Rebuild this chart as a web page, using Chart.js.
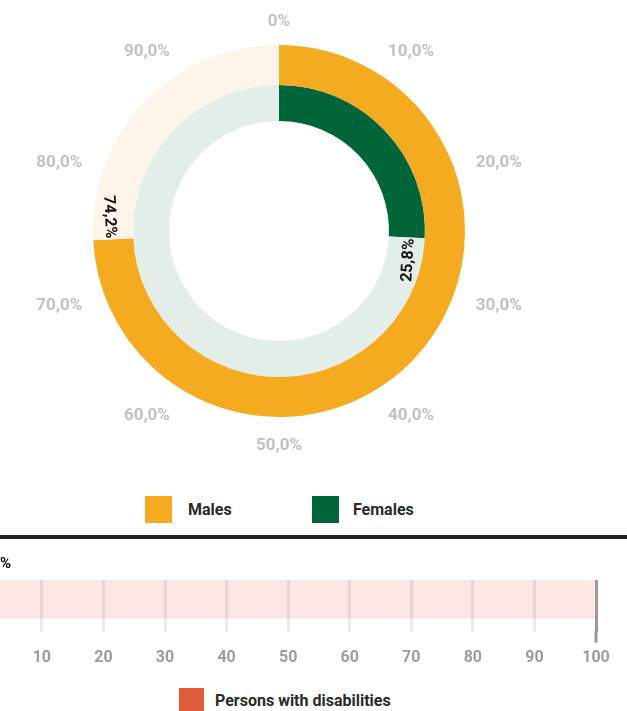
<!DOCTYPE html>
<html>
<head>
<meta charset="utf-8">
<script src="https://cdn.jsdelivr.net/npm/chart.js@4.4.1/dist/chart.umd.min.js"></script>
<style>
body { margin: 0; width: 627px; height: 711px; overflow: hidden; background: #fff; position: relative; font-family: Roboto, "Noto Sans", sans-serif; }
canvas { position: absolute; left: 0; }
#ring { top: 0; }
#bars { top: 545px; }
.rule { position: absolute; left: 0; top: 535px; width: 627px; height: 4px; background: #222; }
.item { position: absolute; display: flex; align-items: center; font-weight: bold; font-size: 16px; color: #2a2a2a; }
.item i { display: block; }
</style>
</head>
<body>
<canvas id="ring" width="627" height="480"></canvas>
<div class="item" style="left:145px; top:496px;"><i style="width:27px;height:27px;background:#f4ab1f;margin-right:16px;"></i>Males</div>
<div class="item" style="left:312px; top:496px;"><i style="width:27px;height:27px;background:#00663a;margin-right:14px;"></i>Females</div>
<div class="rule"></div>
<canvas id="bars" width="627" height="140"></canvas>
<div class="item" style="left:179px; top:688px;"><i style="width:25px;height:25px;background:#e05a3c;margin-right:11px;"></i>Persons with disabilities</div>
<script>
// donut data
var genderLabels = ["Males", "Females"];
var genderShares = [74.2, 25.8];
var ringTicks = [0, 10, 20, 30, 40, 50, 60, 70, 80, 90];

// bar data
var barCategories = ["Persons with disabilities"];
var disabilityShares = [0];
var barTrack = [100];
var barTicks = [10, 20, 30, 40, 50, 60, 70, 80, 90, 100];

var orange = "#f4ab1f", green = "#00663a", cream = "#fdf5e9", mist = "#e4eee8";
var pink = "#fbe8e5", red = "#e05a3c";

function pct(v) {
    return v === 0 ? "0%" : v.toFixed(1).replace(".", ",") + "%";
}

// labels round the rings + value labels on the arc ends
var ringText = {
    id: "ringText",
    afterDraw: function (chart) {
        var c = chart.ctx;
        var first = chart.getDatasetMeta(0).data[0];
        var cx = first.x, cy = first.y + 3, R = first.outerRadius + 22;
        c.save();
        c.font = "bold 17px Roboto";
        c.fillStyle = "#c2c2c2";
        c.textAlign = "center";
        c.textBaseline = "middle";
        ringTicks.forEach(function (v) {
            var a = v / 100 * Math.PI * 2;
            var dx = Math.sin(a), dy = -Math.cos(a);
            var w = c.measureText(pct(v)).width;
            var r = R + Math.abs(dx) * w / 2 + Math.abs(dy) * 4;
            c.fillText(pct(v), cx + dx * r, cy + dy * r);
        });

        c.fillStyle = "#111";
        c.font = "bold 16px Roboto";
        c.textAlign = "right";
        chart.data.datasets.forEach(function (ds, i) {
            var el = chart.getDatasetMeta(i).data[0];
            var r = (el.innerRadius + el.outerRadius) / 2 + 3;
            var a = el.endAngle + 1 / r;
            c.save();
            c.translate(el.x + Math.cos(a) * r, el.y + Math.sin(a) * r);
            c.rotate(a - Math.PI / 2);
            c.fillText(pct(ds.data[0]), 0, 0);
            c.restore();
        });
        c.restore();
    }
};

new Chart(document.getElementById("ring"), {
    type: "doughnut",
    data: {
        labels: genderLabels,
        datasets: [{
            data: [genderShares[0], 100 - genderShares[0]],
            backgroundColor: [orange, cream],
            borderWidth: 0,
            weight: 40
        },
        {
            data: [genderShares[1], 100 - genderShares[1]],
            backgroundColor: [green, mist],
            borderWidth: 0,
            weight: 36
        }]
    },
    options: {
        responsive: false,
        animation: false,
        events: [],
        cutout: 110,
        layout: { padding: { left: 93, right: 162, top: 45, bottom: 63 } },
        plugins: { legend: { display: false }, tooltip: { enabled: false } }
    },
    plugins: [ringText]
});

// the 100 line runs a bit lower than the others
var longTick = {
    id: "longTick",
    afterDraw: function (chart) {
        var c = chart.ctx;
        var px = chart.scales.x.getPixelForValue(barTicks[barTicks.length - 1]);
        var b = chart.chartArea.bottom;
        c.save();
        c.strokeStyle = "#9b9b9b";
        c.lineWidth = 3;
        c.beginPath();
        c.moveTo(px, b + 12);
        c.lineTo(px, b + 24);
        c.stroke();
        c.restore();
    }
};

new Chart(document.getElementById("bars"), {
    type: "bar",
    data: {
        labels: barCategories,
        datasets: [{
            label: "Persons with disabilities",
            data: disabilityShares,
            backgroundColor: red,
            grouped: false,
            barPercentage: 1,
            categoryPercentage: 1,
            order: 0
        },
        {
            label: "track",
            data: barTrack,
            backgroundColor: pink,
            grouped: false,
            barPercentage: 1,
            categoryPercentage: 1,
            order: 1
        }]
    },
    options: {
        indexAxis: "y",
        responsive: false,
        animation: false,
        events: [],
        layout: { padding: { left: 0, right: 31, top: 0, bottom: 0 } },
        scales: {
            x: {
                min: 3.2,
                max: 100,
                afterBuildTicks: function (scale) {
                    scale.ticks = barTicks.map(function (v) { return { value: v }; });
                },
                grid: {
                    z: 1,
                    lineWidth: 3,
                    tickLength: 13,
                    color: function (ctx) {
                        return ctx.tick && ctx.tick.value === 100 ? "#9b9b9b" : "rgba(0,0,0,0.08)";
                    }
                },
                border: { display: false },
                ticks: {
                    color: "#9d9d9d",
                    font: { family: "Roboto", weight: "bold", size: 16 },
                    padding: 17,
                    maxRotation: 0,
                    autoSkip: false
                }
            },
            y: { display: false }
        },
        plugins: {
            legend: { display: false },
            tooltip: { enabled: false },
            title: {
                display: true,
                text: "%",
                align: "start",
                color: "#111",
                font: { family: "Roboto", weight: "bold", size: 15 },
                padding: { top: 10, bottom: 7 }
            }
        }
    },
    plugins: [longTick]
});
</script>
</body>
</html>
